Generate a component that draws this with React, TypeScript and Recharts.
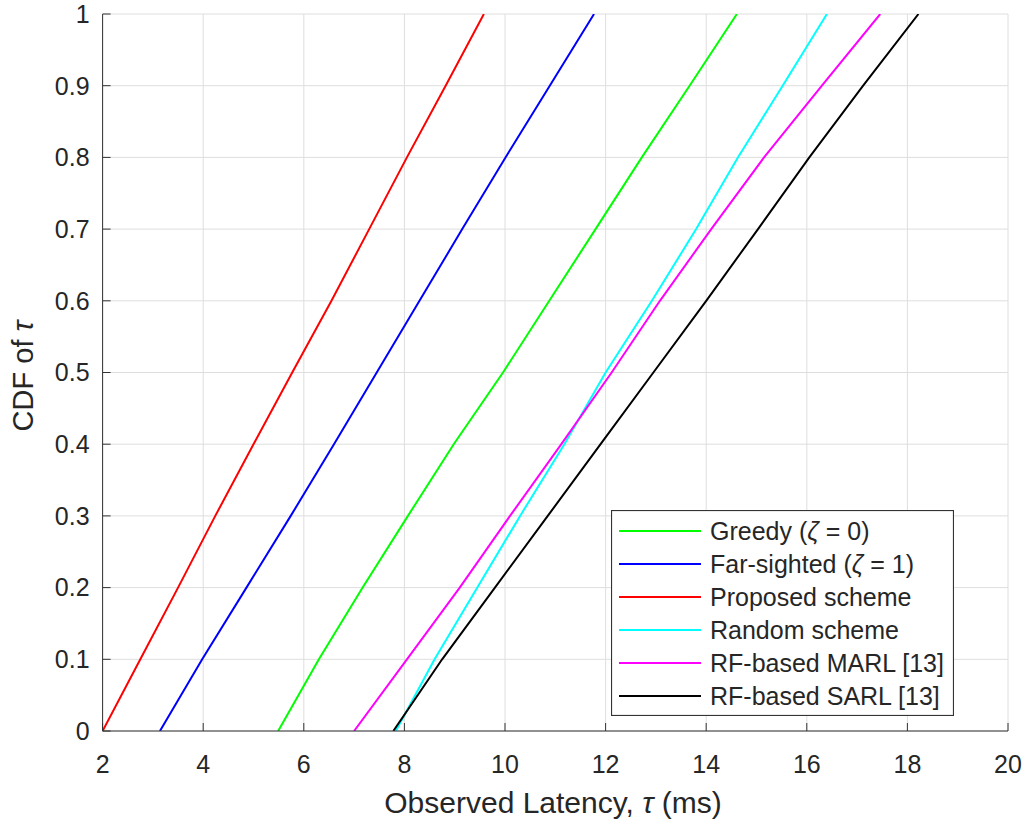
import React from "react";
import {
  LineChart,
  Line,
  XAxis,
  YAxis,
  CartesianGrid,
  Legend,
  Label,
} from "recharts";

// CDF levels at which the latency of each curve was read (ms)
const cdfLevels = [0, 0.1, 0.2, 0.3, 0.4, 0.5, 0.6, 0.7, 0.8, 0.9, 1];

const greedyLatency = [5.49, 6.3, 7.17, 8.07, 8.98, 9.96, 10.88, 11.8, 12.72, 13.67, 14.61];
const farSightedLatency = [3.14, 3.98, 4.86, 5.74, 6.6, 7.45, 8.3, 9.15, 10.01, 10.89, 11.77];
const proposedLatency = [2.0, 2.75, 3.5, 4.24, 5.0, 5.77, 6.55, 7.3, 8.05, 8.82, 9.58];
const randomLatency = [7.83, 8.6, 9.45, 10.3, 11.18, 12.0, 12.92, 13.8, 14.63, 15.52, 16.4];
const marlLatency = [7.0, 8.05, 9.1, 10.1, 11.12, 12.12, 13.08, 14.1, 15.15, 16.3, 17.46];
const sarlLatency = [7.78, 8.75, 9.8, 10.85, 11.9, 12.95, 14.0, 15.03, 16.05, 17.12, 18.22];

const xTicks = [2, 4, 6, 8, 10, 12, 14, 16, 18, 20];
const yTicks = [0, 0.1, 0.2, 0.3, 0.4, 0.5, 0.6, 0.7, 0.8, 0.9, 1];

const series = [
  { name: "Greedy", zeta: "0", color: "#00ff00", values: greedyLatency },
  { name: "Far-sighted", zeta: "1", color: "#0000ff", values: farSightedLatency },
  { name: "Proposed scheme", color: "#ff0000", values: proposedLatency },
  { name: "Random scheme", color: "#00ffff", values: randomLatency },
  { name: "RF-based MARL [13]", color: "#ff00ff", values: marlLatency },
  { name: "RF-based SARL [13]", color: "#000000", values: sarlLatency },
];

const FONT = "'Liberation Sans', Arial, Helvetica, sans-serif";
const AXIS = "#333333";
const TEXT = "#262626";

const toPoints = (values: number[]) =>
  values.map((x, i) => ({ x, y: cdfLevels[i] }));

function LegendBox() {
  return (
    <svg width={343} height={206} style={{ display: "block" }}>
      <rect x={0.5} y={0.5} width={342} height={205} fill="#fff" stroke={AXIS} strokeWidth={1.2} />
      {series.map((s, i) => {
        const cy = 21 + i * 33;
        return (
          <g key={s.name}>
            <line x1={8} x2={90} y1={cy} y2={cy} stroke={s.color} strokeWidth={2} />
            <text x={99} y={cy} dominantBaseline="central" fontSize={25} fontFamily={FONT} fill={TEXT}>
              {s.zeta ? (
                <>
                  {s.name} (<tspan fontStyle="italic">ζ</tspan> = {s.zeta})
                </>
              ) : (
                s.name
              )}
            </text>
          </g>
        );
      })}
    </svg>
  );
}

export default function App() {
  return (
    <div style={{ position: "absolute", left: 0, top: 0, background: "#fff" }}>
      <LineChart
        width={1035}
        height={826}
        margin={{ top: 14, right: 27, bottom: 35, left: 12.6 }}
      >
        <CartesianGrid stroke="#dedede" strokeWidth={1} />
        <XAxis
          dataKey="x"
          type="number"
          domain={[2, 20]}
          ticks={xTicks}
          allowDataOverflow
          height={60}
          stroke={AXIS}
          tickSize={-8}
          tickMargin={32}
          tick={{ fontSize: 25, fill: TEXT, fontFamily: FONT }}
        >
          <Label
            content={() => (
              <text x={553} y={813} textAnchor="middle" fontSize={30} fontFamily={FONT} fill={TEXT}>
                Observed Latency, <tspan fontStyle="italic">τ</tspan> (ms)
              </text>
            )}
          />
        </XAxis>
        <XAxis
          xAxisId="top"
          orientation="top"
          type="number"
          domain={[2, 20]}
          ticks={xTicks}
          allowDataOverflow
          height={0}
          stroke={AXIS}
          tickSize={-8}
          tickFormatter={() => ""}
        />
        <YAxis
          type="number"
          domain={[0, 1]}
          ticks={yTicks}
          allowDataOverflow
          width={90}
          stroke={AXIS}
          tickSize={-8}
          tickMargin={21}
          tick={{ fontSize: 25, fill: TEXT, fontFamily: FONT }}
        >
          <Label
            content={() => (
              <text
                x={33}
                y={376}
                transform="rotate(-90 33 376)"
                textAnchor="middle"
                fontSize={29}
                fontFamily={FONT}
                fill={TEXT}
              >
                CDF of <tspan fontStyle="italic">τ</tspan>
              </text>
            )}
          />
        </YAxis>
        <YAxis
          yAxisId="right"
          orientation="right"
          type="number"
          domain={[0, 1]}
          ticks={yTicks}
          allowDataOverflow
          width={0}
          stroke={AXIS}
          tickSize={-8}
          tickFormatter={() => ""}
        />
        {series.map((s) => (
          <Line
            key={s.name}
            data={toPoints(s.values)}
            dataKey="y"
            name={s.name}
            type="linear"
            stroke={s.color}
            strokeWidth={2}
            dot={false}
            isAnimationActive={false}
          />
        ))}
        <Legend
          layout="vertical"
          align="center"
          verticalAlign="middle"
          wrapperStyle={{ position: "absolute", left: 611, top: 510, width: 343, height: 206 }}
          content={() => <LegendBox />}
        />
      </LineChart>
    </div>
  );
}
